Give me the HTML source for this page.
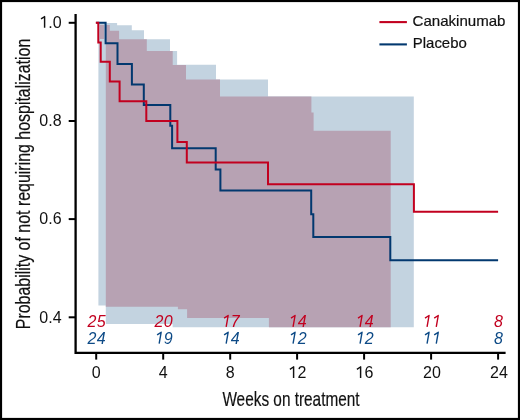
<!DOCTYPE html>
<html><head><meta charset="utf-8"><style>
html,body{margin:0;padding:0;background:#fff;}
svg{display:block;will-change:transform;}
text{font-family:"Liberation Sans",sans-serif;}
.t{font-size:16px;fill:#111;}
.n{font-size:16px;font-style:italic;}
.lg{font-size:15px;fill:#111;stroke:#111;stroke-width:0.2px;}
.ax{font-size:20.6px;fill:#111;stroke:#111;stroke-width:0.2px;}
</style></head><body>
<svg width="520" height="420" viewBox="0 0 520 420">
<rect width="520" height="420" fill="#fff"/>
<polygon points="98.4,23.1 117.1,23.1 117.1,25.2 131.8,25.2 131.8,30.2 144.0,30.2 144.0,39.2 170.0,39.2 170.0,50.9 177.1,50.9 177.1,64.7 216.0,64.7 216.0,79.5 268.0,79.5 268.0,96.4 413.8,96.4 413.8,327.3 172.6,327.3 172.6,324.0 105.8,324.0 105.8,305.4 98.4,305.4" fill="#c3d3e0"/>
<polygon points="105.8,24.9 109.8,24.9 109.8,30.7 119.1,30.7 119.1,39.2 146.8,39.2 146.8,51.0 172.7,51.0 172.7,64.9 186.0,64.9 186.0,79.4 220.0,79.4 220.0,96.4 311.4,96.4 311.4,112.4 313.6,112.4 313.6,130.8 390.7,130.8 390.7,327.3 268.9,327.3 268.9,317.9 187.1,317.9 187.1,309.3 177.9,309.3 177.9,306.8 105.8,306.8" fill="#b7a2b3"/>
<rect x="99.9" y="24.9" width="4.3" height="14.1" fill="#b7a2b3"/>
<path d="M96.2,22.85 H105.6 V43.2 H117.5 V64.0 H131.9 V84.5 H143.8 V105.0 H170.3 V125.7 H172.1 V148.2 H215.7 V169.4 H220.4 V190.5 H311.2 V214.2 H313.3 V237.0 H390.3 V260.3 H498.1" fill="none" stroke="#02386f" stroke-width="2"/>
<path d="M95.8,22.85 H98.3 V42.6 H100.7 V61.8 H109.8 V81.6 H119.6 V101.3 H146.3 V121.0 H177.4 V142.0 H186.8 V162.6 H268.0 V184.3 H413.9 V211.8 H498.1" fill="none" stroke="#c2001f" stroke-width="2"/>
<path d="M75.6,13.9 V352.85 H505.6" fill="none" stroke="#000" stroke-width="2.3"/>
<line x1="68.7" y1="22.8" x2="75.6" y2="22.8" stroke="#000" stroke-width="2"/>
<path d="M44.6,27.80 V16.50 M45.15,16.40 L41.0,18.80" fill="none" stroke="#111" stroke-width="1.45"/>
<text x="61.6" y="28.1" text-anchor="end" class="t">.0</text>
<line x1="68.7" y1="121.0" x2="75.6" y2="121.0" stroke="#000" stroke-width="2"/>
<text x="61.6" y="126.3" text-anchor="end" class="t">0.8</text>
<line x1="68.7" y1="219.1" x2="75.6" y2="219.1" stroke="#000" stroke-width="2"/>
<text x="61.6" y="224.4" text-anchor="end" class="t">0.6</text>
<line x1="68.7" y1="317.3" x2="75.6" y2="317.3" stroke="#000" stroke-width="2"/>
<text x="61.6" y="322.6" text-anchor="end" class="t">0.4</text>
<line x1="96.2" y1="352.85" x2="96.2" y2="359.6" stroke="#000" stroke-width="2"/>
<text x="96.2" y="378.1" text-anchor="middle" class="t">0</text>
<line x1="163.2" y1="352.85" x2="163.2" y2="359.6" stroke="#000" stroke-width="2"/>
<text x="163.2" y="378.1" text-anchor="middle" class="t">4</text>
<line x1="230.2" y1="352.85" x2="230.2" y2="359.6" stroke="#000" stroke-width="2"/>
<text x="230.2" y="378.1" text-anchor="middle" class="t">8</text>
<line x1="297.1" y1="352.85" x2="297.1" y2="359.6" stroke="#000" stroke-width="2"/>
<path d="M293.60,377.9 V366.6 M294.15,366.5 L289.90,369.3" fill="none" stroke="#111" stroke-width="1.45"/>
<text x="301.90" y="378.1" text-anchor="middle" class="t">2</text>
<line x1="364.1" y1="352.85" x2="364.1" y2="359.6" stroke="#000" stroke-width="2"/>
<path d="M360.60,377.9 V366.6 M361.15,366.5 L356.90,369.3" fill="none" stroke="#111" stroke-width="1.45"/>
<text x="368.90" y="378.1" text-anchor="middle" class="t">6</text>
<line x1="431.1" y1="352.85" x2="431.1" y2="359.6" stroke="#000" stroke-width="2"/>
<text x="431.90000000000003" y="378.1" text-anchor="middle" class="t">20</text>
<line x1="498.1" y1="352.85" x2="498.1" y2="359.6" stroke="#000" stroke-width="2"/>
<text x="498.90000000000003" y="378.1" text-anchor="middle" class="t">24</text>
<text x="92.00" y="326.8" text-anchor="middle" class="n" fill="#c2001f">2</text>
<text x="101.20" y="326.8" text-anchor="middle" class="n" fill="#c2001f">5</text>
<text x="92.00" y="343.6" text-anchor="middle" class="n" fill="#0d4a86">2</text>
<text x="101.20" y="343.6" text-anchor="middle" class="n" fill="#0d4a86">4</text>
<text x="159.00" y="326.8" text-anchor="middle" class="n" fill="#c2001f">2</text>
<text x="168.20" y="326.8" text-anchor="middle" class="n" fill="#c2001f">0</text>
<path d="M159.15,343.60 L161.15,332.30 L157.10,334.90" fill="none" stroke="#0d4a86" stroke-width="1.4" stroke-linejoin="round" stroke-linecap="butt"/>
<text x="168.20" y="343.6" text-anchor="middle" class="n" fill="#0d4a86">9</text>
<path d="M226.15,326.80 L228.15,315.50 L224.10,318.10" fill="none" stroke="#c2001f" stroke-width="1.4" stroke-linejoin="round" stroke-linecap="butt"/>
<text x="235.20" y="326.8" text-anchor="middle" class="n" fill="#c2001f">7</text>
<path d="M226.15,343.60 L228.15,332.30 L224.10,334.90" fill="none" stroke="#0d4a86" stroke-width="1.4" stroke-linejoin="round" stroke-linecap="butt"/>
<text x="235.20" y="343.6" text-anchor="middle" class="n" fill="#0d4a86">4</text>
<path d="M293.05,326.80 L295.05,315.50 L291.00,318.10" fill="none" stroke="#c2001f" stroke-width="1.4" stroke-linejoin="round" stroke-linecap="butt"/>
<text x="302.10" y="326.8" text-anchor="middle" class="n" fill="#c2001f">4</text>
<path d="M293.05,343.60 L295.05,332.30 L291.00,334.90" fill="none" stroke="#0d4a86" stroke-width="1.4" stroke-linejoin="round" stroke-linecap="butt"/>
<text x="302.10" y="343.6" text-anchor="middle" class="n" fill="#0d4a86">2</text>
<path d="M360.05,326.80 L362.05,315.50 L358.00,318.10" fill="none" stroke="#c2001f" stroke-width="1.4" stroke-linejoin="round" stroke-linecap="butt"/>
<text x="369.10" y="326.8" text-anchor="middle" class="n" fill="#c2001f">4</text>
<path d="M360.05,343.60 L362.05,332.30 L358.00,334.90" fill="none" stroke="#0d4a86" stroke-width="1.4" stroke-linejoin="round" stroke-linecap="butt"/>
<text x="369.10" y="343.6" text-anchor="middle" class="n" fill="#0d4a86">2</text>
<path d="M427.05,326.80 L429.05,315.50 L425.00,318.10" fill="none" stroke="#c2001f" stroke-width="1.4" stroke-linejoin="round" stroke-linecap="butt"/>
<path d="M436.25,326.80 L438.25,315.50 L434.20,318.10" fill="none" stroke="#c2001f" stroke-width="1.4" stroke-linejoin="round" stroke-linecap="butt"/>
<path d="M427.05,343.60 L429.05,332.30 L425.00,334.90" fill="none" stroke="#0d4a86" stroke-width="1.4" stroke-linejoin="round" stroke-linecap="butt"/>
<path d="M436.25,343.60 L438.25,332.30 L434.20,334.90" fill="none" stroke="#0d4a86" stroke-width="1.4" stroke-linejoin="round" stroke-linecap="butt"/>
<text x="498.50" y="326.8" text-anchor="middle" class="n" fill="#c2001f">8</text>
<text x="498.50" y="343.6" text-anchor="middle" class="n" fill="#0d4a86">8</text>
<line x1="379.4" y1="22.1" x2="406.9" y2="22.1" stroke="#c2001f" stroke-width="2.1"/>
<line x1="379.4" y1="44.4" x2="406.9" y2="44.4" stroke="#02386f" stroke-width="2.1"/>
<text x="412.5" y="26.1" class="lg" textLength="93" lengthAdjust="spacingAndGlyphs">Canakinumab</text>
<text x="412.8" y="48.2" class="lg" textLength="54" lengthAdjust="spacingAndGlyphs">Placebo</text>
<text x="222.4" y="406" class="ax" textLength="137.2" lengthAdjust="spacingAndGlyphs">Weeks on treatment</text>
<text transform="translate(29.8,329.2) rotate(-90)" x="0" y="0" class="ax" textLength="290.5" lengthAdjust="spacingAndGlyphs">Probability of not requiring hospitalization</text>
<rect x="1" y="1" width="518" height="418" fill="none" stroke="#000" stroke-width="2.2"/>
</svg>
</body></html>
